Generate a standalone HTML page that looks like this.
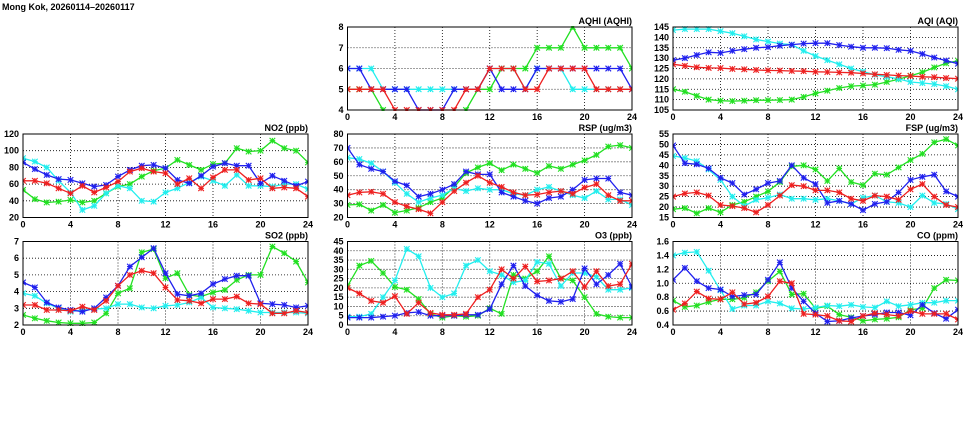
<!DOCTYPE html>
<html><head><meta charset="utf-8"><style>
html,body{margin:0;padding:0;background:#fff;}
svg{display:block;}
text{font-family:"Liberation Sans",sans-serif;font-weight:bold;font-size:9px;fill:#000;}
</style></head><body>
<svg id="chart" width="975" height="447" viewBox="0 0 975 447" xmlns="http://www.w3.org/2000/svg">
<text x="2" y="10" font-size="10">Mong Kok, 20260114–20260117</text>
</svg>
<script>
const hours = [0,1,2,3,4,5,6,7,8,9,10,11,12,13,14,15,16,17,18,19,20,21,22,23,24];
const xTicks = [0,4,8,12,16,20,24];

const aqhiGreen = [5,5,5,4,3,3,3,3,3,3,4,5,5,6,6,6,7,7,7,8,7,7,7,7,6];
const aqhiCyan = [6,6,6,5,5,5,5,5,5,5,5,5,6,6,6,5,6,6,6,5,5,5,5,5,5];
const aqhiBlue = [6,6,5,5,5,5,4,4,4,5,5,5,6,5,5,5,6,6,6,6,6,6,6,6,5];
const aqhiRed = [5,5,5,5,4,4,4,4,4,4,5,5,6,6,6,5,5,6,6,6,6,5,5,5,5];
const aqhiTicks = [4,5,6,7,8];

const aqiCyan = [143.5,144,144,144,143,142,140.5,139,138,137,136.5,133.5,131,129,127,125,123.5,122,121,120,118.5,118,117.5,116.5,115];
const aqiBlue = [129,130,131.5,132.8,132.5,133.5,134.3,135,135.3,136,136.5,137,137.2,137.2,136.3,135.5,135,135,134.8,134,133.5,132,130.3,128.8,127.3];
const aqiRed = [127,126.3,125.6,125.3,125.2,124.8,124.6,124.3,124.1,124,123.8,123.7,123.4,123.3,123.1,123,122.6,122.2,121.9,121.6,121.4,121,120.8,120.4,120.1];
const aqiGreen = [115,113.8,111.8,110,109.5,109.3,109.5,109.7,109.7,109.8,110,111.3,113,114.3,115.6,116.5,116.8,117.2,118.5,119.8,121.5,123.2,125.5,127.5,128.7];
const aqiTicks = [105,110,115,120,125,130,135,140,145];

const no2Green = [53,42,38,39,41,38,40,49,57,60,69,76,79,89,83,77,84,85,103,99,100,112,103,100,86];
const no2Cyan = [91,87,80,64,50,29,34,49,58,55,40,39,50,55,62,69,64,58,71,58,58,57,60,60,54];
const no2Blue = [86,78,71,66,65,61,57,59,69,77,82,83,79,65,61,70,81,85,82,82,61,70,64,58,63];
const no2Red = [64,64,61,55,49,58,50,56,63,75,79,75,73,60,67,55,68,77,77,65,67,55,56,55,45];
const no2Ticks = [20,40,60,80,100,120];

const rspGreen = [29,29.5,25,29,23.5,25,27,31,34,42,52,56,59,54,58,55,52,57,55,58,61,65,71,72,70];
const rspCyan = [63,62,59,53,45,37,31,34,36,41,39,41,40,40,37,36,40,42,39,36,34,39,33,33,29];
const rspBlue = [70,58,55,53,46,43,35,37,40,44,53,51,51,38,35,32,30,34,35,40,47,48,48,38,36];
const rspRed = [36,38,38.5,37,31,28,26,23,31,39,45,50,45,42,38,36,36.5,38,39,37,41.5,44,36,32,32];
const rspTicks = [20,30,40,50,60,70,80];

const fspGreen = [19,19.5,17,19.5,17.5,21,22.5,25,27.5,32,39.5,40,38,32.5,38.5,32,30.5,36,35.5,39,42.5,45.5,51,52.5,49.5];
const fspCyan = [44.5,43.5,42,38,33,25,20.5,23.5,24.5,26,24,24,23.5,24,23,21.5,24.5,25.5,22.5,22,20,25.5,22,21.5,19];
const fspBlue = [49.5,41,40.5,38.5,34,31.5,26,28.5,31.5,32.5,40,34,31,22,23,21.5,18.5,21.5,22.5,27,33,34.5,35.5,27.5,25];
const fspRed = [25,26.5,27,25.5,21,20.5,19.5,17.5,21,25.5,30.5,30,28,28,27,24,23,25.5,25,23.5,28.5,31,25,21,20];
const fspTicks = [15,20,25,30,35,40,45,50,55];

const so2Green = [2.6,2.4,2.25,2.15,2.1,2.1,2.15,2.7,3.9,4.2,6.35,6.55,4.8,5.1,3.8,3.7,3.95,4.1,4.7,5.0,5.0,6.7,6.3,5.8,4.55];
const so2Cyan = [3.9,3.75,3.3,3.0,2.8,2.9,2.95,3.0,3.25,3.25,3.05,3.0,3.15,3.2,3.35,3.65,3.05,3.0,2.95,2.85,2.75,2.75,2.75,2.75,2.7];
const so2Blue = [4.55,4.25,3.35,3.05,2.9,2.8,3.0,3.65,4.35,5.5,6.05,6.6,5.1,3.85,3.75,3.9,4.45,4.75,4.95,4.95,3.3,3.25,3.2,3.05,3.15];
const so2Red = [3.2,3.2,2.9,2.9,2.85,3.1,2.9,3.45,4.35,5.0,5.25,5.1,4.25,3.5,3.45,3.3,3.55,3.55,3.7,3.3,3.25,2.7,2.7,2.85,2.75];
const so2Ticks = [2,3,4,5,6,7];

const o3Green = [21,32,34.5,28,20.5,19,14,6,4,5,4.5,5,9,6,27,25,29,37,25,24,15,6,4.5,4,4];
const o3Cyan = [4.5,4.5,6,15,24,41,37,20,15,17,32,35,29,27,23,24,34,33,21,28,28,26,19,19,20];
const o3Blue = [4,4,4,4.5,5,6.5,7,5,5,5,5.5,5.5,8.5,22,32,21,16,13,12.5,14,30.5,22,27,33,20.5];
const o3Red = [20,17,13,12,15.5,6,12,6.5,5.5,5.5,6,15,19,30,25,31.5,23.5,24,25,29,20.5,29,21,22,33];
const o3Ticks = [0,5,10,15,20,25,30,35,40,45];

const coGreen = [0.75,0.66,0.68,0.73,0.77,0.77,0.79,0.87,1.03,1.17,0.84,0.85,0.64,0.67,0.55,0.51,0.46,0.48,0.49,0.51,0.62,0.64,0.93,1.05,1.04];
const coCyan = [1.4,1.44,1.45,1.18,0.9,0.63,0.68,0.68,0.74,0.71,0.64,0.63,0.65,0.68,0.67,0.69,0.66,0.65,0.74,0.67,0.69,0.72,0.72,0.75,0.75];
const coBlue = [1.05,1.22,1.03,0.93,0.91,0.81,0.83,0.84,1.05,1.3,0.93,0.74,0.57,0.45,0.46,0.5,0.53,0.55,0.58,0.58,0.54,0.69,0.57,0.49,0.62];
const coRed = [0.62,0.71,0.88,0.78,0.77,0.87,0.7,0.72,0.81,1.03,1.0,0.56,0.55,0.53,0.46,0.45,0.53,0.57,0.55,0.53,0.6,0.56,0.56,0.56,0.48];
const coTicks = [0.4,0.6,0.8,1.0,1.2,1.4,1.6];

const NS = "http://www.w3.org/2000/svg";
const svg = document.getElementById('chart');
function mk(tag, attrs, parent){
  const e = document.createElementNS(NS, tag);
  for (const k in attrs) e.setAttribute(k, attrs[k]);
  (parent||svg).appendChild(e);
  return e;
}
const COLORS = {green:'#22e022', cyan:'#22eeee', blue:'#2020ee', red:'#ee2020'};

function panel(id, title, x0, x1, y0, y1, ticks, fmt, series){
  const g = mk('g', {});
  
  
  const ymin = ticks[0], ymax = ticks[ticks.length-1];
  const xs = h => x0 + (h/24)*(x1-x0);
  const ys = v => y1 - (v-ymin)/(ymax-ymin)*(y1-y0);
  // grid
  ticks.forEach(t => {
    const yy = ys(t);
    if (t!==ymin && t!==ymax){
      const l = mk('line', {x1:x0, x2:x1, y1:yy, y2:yy, stroke:'#000', 'stroke-width':0.8, 'stroke-dasharray':'1,2'}, g);
      
      
    }
    const tl = mk('text', {x:x0-4, y:yy+3, 'text-anchor':'end'}, g);
    
    
    tl.textContent = fmt(t);
  });
  xTicks.forEach(t => {
    const xx = xs(t);
    if (t!==0 && t!==24){
      const l = mk('line', {x1:xx, x2:xx, y1:y0, y2:y1, stroke:'#000', 'stroke-width':0.8, 'stroke-dasharray':'1,2'}, g);
      
      
    }
    const tl = mk('text', {x:xx, y:y1+10, 'text-anchor':'middle'}, g);
    
    
    tl.textContent = t;
  });
  const tt = mk('text', {x:x1, y:y0-3, 'text-anchor':'end', 'font-size':'8.5'}, g);
  
  
  tt.textContent = title;
  const clipId = 'clip-' + id;
  const cp = mk('clipPath', {id:clipId}, g);
  mk('rect', {x:x0, y:y0-1, width:x1-x0, height:y1-y0+2}, cp);
  const sg = mk('g', {'clip-path':'url(#'+clipId+')'}, g);
  series.forEach(([name, vals]) => {
    const col = COLORS[name];
    const pts = hours.map((h,i) => xs(h).toFixed(1)+','+ys(vals[i]).toFixed(1)).join(' ');
    const pl = mk('polyline', {points:pts, fill:'none', stroke:col, 'stroke-width':1.3}, sg);
    
    
    hours.forEach((h,i) => {
      const cx = xs(h), cy = ys(vals[i]), s = 2.8;
      const m = mk('path', {d:`M${cx-s},${cy-s}L${cx+s},${cy+s}M${cx-s},${cy+s}L${cx+s},${cy-s}M${cx-s},${cy}L${cx+s},${cy}M${cx},${cy-s}L${cx},${cy+s}`, stroke:col, 'stroke-width':1.1, fill:'none'}, sg);
      
      
    });
  });
  const fr = mk('rect', {x:x0, y:y0, width:x1-x0, height:y1-y0, fill:'none', stroke:'#000', 'stroke-width':1}, g);
  
  
}
const f0 = v => String(v), f1 = v => v.toFixed(1);
panel('aqhi','AQHI (AQHI)',347.5,632,27,110,aqhiTicks,f0,[['green',aqhiGreen],['cyan',aqhiCyan],['blue',aqhiBlue],['red',aqhiRed]]);
panel('aqi','AQI (AQI)',673,958,27,110,aqiTicks,f0,[['green',aqiGreen],['cyan',aqiCyan],['blue',aqiBlue],['red',aqiRed]]);
panel('no2','NO2 (ppb)',23,308,134,217.5,no2Ticks,f0,[['green',no2Green],['cyan',no2Cyan],['blue',no2Blue],['red',no2Red]]);
panel('rsp','RSP (ug/m3)',347.5,632,134,217.5,rspTicks,f0,[['green',rspGreen],['cyan',rspCyan],['blue',rspBlue],['red',rspRed]]);
panel('fsp','FSP (ug/m3)',673,958,134,217.5,fspTicks,f0,[['green',fspGreen],['cyan',fspCyan],['blue',fspBlue],['red',fspRed]]);
panel('so2','SO2 (ppb)',23,308,241.5,325,so2Ticks,f0,[['green',so2Green],['cyan',so2Cyan],['blue',so2Blue],['red',so2Red]]);
panel('o3','O3 (ppb)',347.5,632,241.5,325,o3Ticks,f0,[['green',o3Green],['cyan',o3Cyan],['blue',o3Blue],['red',o3Red]]);
panel('co','CO (ppm)',673,958,241.5,325,coTicks,f1,[['green',coGreen],['cyan',coCyan],['blue',coBlue],['red',coRed]]);
</script>
</body></html>
